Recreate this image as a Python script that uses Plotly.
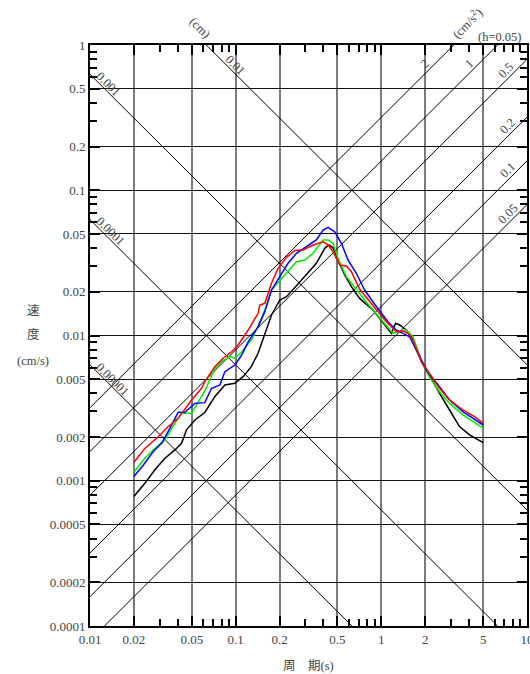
import math
import plotly.graph_objects as go

# ---------------- data (period in s, pseudo velocity in cm/s) ----------------
period_red = [0.020, 0.0238, 0.0294, 0.0344, 0.0403, 0.0498, 0.0583, 0.0614, 0.0719, 0.0820,
              0.0937, 0.104, 0.122, 0.1425, 0.1464, 0.1585, 0.1762, 0.1955, 0.2232, 0.2544,
              0.290, 0.340, 0.398, 0.431, 0.466, 0.518, 0.575, 0.623, 0.710, 0.876,
              1.082, 1.267, 1.407, 1.522, 1.647, 1.880, 2.145, 2.51, 2.94, 3.63, 4.36, 5.0]
vel_red = [0.00134, 0.00167, 0.00201, 0.00236, 0.00269, 0.00360, 0.00433, 0.00481, 0.00610, 0.00697,
           0.00773, 0.00860, 0.01091, 0.01422, 0.01622, 0.01666, 0.02288, 0.02902, 0.03450, 0.03850,
           0.03878, 0.04198, 0.04423, 0.04198, 0.03775, 0.03057, 0.03010, 0.02749, 0.02080, 0.01600,
           0.01245, 0.01062, 0.01074, 0.01035, 0.00931, 0.00660, 0.00549, 0.00433, 0.00360, 0.00307,
           0.00276, 0.00249]

period_blue = [0.020, 0.0232, 0.0272, 0.0310, 0.0354, 0.0403, 0.0448, 0.0525, 0.0614, 0.0683,
               0.0779, 0.0843, 0.0987, 0.110, 0.122, 0.1425, 0.1585, 0.1762, 0.2008, 0.2289,
               0.2614, 0.306, 0.358, 0.398, 0.4305, 0.478, 0.532, 0.590, 0.674, 0.768,
               0.900, 1.110, 1.267, 1.407, 1.563, 1.782, 2.034, 2.51, 2.94, 3.63, 5.0]
vel_blue = [0.00107, 0.00128, 0.00159, 0.00181, 0.00230, 0.00296, 0.00296, 0.00341, 0.00345, 0.00433,
            0.00456, 0.00563, 0.00626, 0.00734, 0.00906, 0.0115, 0.01459, 0.02057, 0.02540, 0.03141,
            0.03681, 0.04087, 0.04545, 0.05325, 0.05557, 0.05184, 0.04313, 0.03310, 0.02681, 0.02057,
            0.01640, 0.01245, 0.01091, 0.01035, 0.00981, 0.00754, 0.00579, 0.00444, 0.00360, 0.00299,
            0.00242]

period_green = [0.020, 0.0238, 0.0279, 0.0327, 0.0383, 0.0425, 0.0498, 0.0539, 0.0614, 0.0719,
                0.080, 0.0912, 0.0987, 0.110, 0.128, 0.1425, 0.1585, 0.1762, 0.2008, 0.2232,
                0.2614, 0.298, 0.340, 0.398, 0.4305, 0.466, 0.504, 0.575, 0.674, 0.789,
                0.876, 1.082, 1.201, 1.300, 1.484, 1.647, 1.880, 2.145, 2.51, 2.94, 3.63, 5.0]
vel_green = [0.00115, 0.00143, 0.00167, 0.00191, 0.00249, 0.00291, 0.00291, 0.00332, 0.00415, 0.00594,
             0.00660, 0.00715, 0.00697, 0.00773, 0.00931, 0.0115, 0.01498, 0.02057, 0.02400, 0.02700,
             0.03222, 0.03310, 0.03681, 0.04545, 0.04545, 0.04313, 0.03400, 0.02540, 0.02057, 0.01700,
             0.01498, 0.01181, 0.01035, 0.01062, 0.01091, 0.00981, 0.00660, 0.00514, 0.00410, 0.00341,
             0.00284, 0.00230]

period_black = [0.020, 0.0238, 0.0279, 0.0327, 0.0383, 0.0425, 0.0460, 0.0525, 0.0614, 0.0719,
                0.0843, 0.0987, 0.1125, 0.128, 0.1425, 0.1585, 0.1762, 0.2008, 0.2232, 0.2614,
                0.306, 0.358, 0.409, 0.437, 0.466, 0.504, 0.560, 0.623, 0.710, 0.876,
                1.082, 1.171, 1.253, 1.335, 1.484, 1.647, 1.880, 2.145, 2.51, 2.94, 3.44, 4.03, 5.0]
vel_black = [0.00078, 0.00096, 0.00119, 0.00143, 0.00163, 0.00181, 0.00224, 0.00262, 0.00295, 0.00379,
             0.00456, 0.00469, 0.00521, 0.00610, 0.00754, 0.01035, 0.01384, 0.01756, 0.01850, 0.02200,
             0.02609, 0.03141, 0.03984, 0.04198, 0.04013, 0.03310, 0.02609, 0.02168, 0.01800, 0.01498,
             0.01150, 0.01035, 0.01213, 0.01181, 0.01091, 0.00956, 0.00678, 0.00528, 0.00400, 0.00307,
             0.00236, 0.00207, 0.00183]

# tripartite diagonal levels
disp_levels = [0.00001, 0.0001, 0.001, 0.01]          # cm
disp_labels = ["0.00001", "0.0001", "0.001", "0.01"]
disp_label_period = [0.01438, 0.01371, 0.01328, 0.0987]
acc_levels = [0.05, 0.1, 0.2, 0.5, 1, 2]               # cm/s^2
acc_labels = ["0.05", "0.1", "0.2", "0.5", "1", "2"]
acc_label_period = [7.38, 7.38, 7.38, 7.2, 3.99, 1.98]

x_tickvals = [0.01, 0.02, 0.05, 0.1, 0.2, 0.5, 1, 2, 5, 10]
x_ticktext = ["0.01", "0.02", "0.05", "0.1", "0.2", "0.5", "1", "2", "5", "10"]
y_tickvals = [1, 0.5, 0.2, 0.1, 0.05, 0.02, 0.01, 0.005, 0.002, 0.001, 0.0005, 0.0002, 0.0001]
y_ticktext = ["1", "0.5", "0.2", "0.1", "0.05", "0.02", "0.01", "0.005", "0.002", "0.001",
              "0.0005", "0.0002", "0.0001"]
minor_mult = [3, 4, 6, 7, 8, 9]
x_minor = [d * m for d in [0.01, 0.1, 1] for m in minor_mult]
y_minor = [d * m for d in [0.0001, 0.001, 0.01, 0.1] for m in minor_mult]

TWO_PI = 2 * math.pi
FONT = "Liberation Serif, Noto Sans CJK JP"
TXT = "#444444"

fig = go.Figure()

T_ends = [0.01, 10]
for D in disp_levels:
    fig.add_trace(go.Scatter(x=T_ends, y=[TWO_PI * D / t for t in T_ends], mode="lines",
                             line=dict(color="black", width=1), hoverinfo="skip"))
for A in acc_levels:
    fig.add_trace(go.Scatter(x=T_ends, y=[A * t / TWO_PI for t in T_ends], mode="lines",
                             line=dict(color="black", width=1), hoverinfo="skip"))

for px_, vy, col in [(period_black, vel_black, "black"), (period_green, vel_green, "#00ee00"),
                     (period_blue, vel_blue, "#0000ff"), (period_red, vel_red, "#ff0000")]:
    fig.add_trace(go.Scatter(x=px_, y=vy, mode="lines", line=dict(color=col, width=1.5)))

lab_font = dict(family=FONT, size=12.5, color=TXT)
C = dict(xanchor="center", yanchor="middle", showarrow=False, font=lab_font)
ann = []
for D, lab, t in zip(disp_levels, disp_labels, disp_label_period):
    ann.append(dict(x=math.log10(t), y=math.log10(TWO_PI * D / t), text=lab, textangle=45,
                    yshift=8, **C))
for A, lab, t in zip(acc_levels, acc_labels, acc_label_period):
    ann.append(dict(x=math.log10(t), y=math.log10(A * t / TWO_PI), text=lab, textangle=-45,
                    yshift=10, **C))
# unit / damping labels above the plot area (paper coordinates)
ann.append(dict(xref="paper", yref="paper", x=0.2517, y=1.0293, text="(cm)", textangle=45, **C))
ann.append(dict(xref="paper", yref="paper", x=0.862, y=1.0373, text="(cm/s<sup>2</sup>)",
                textangle=-45, **C))
ann.append(dict(xref="paper", yref="paper", x=0.9382, y=1.0143, text="(h=0.05)", **C))

# axis titles
for txt, yp in [("速", 0.5422), ("度", 0.5009), ("(cm/s)", 0.4561)]:
    ann.append(dict(xref="paper", yref="paper", x=-0.1304, y=yp, text=txt, **C))
ann.append(dict(xref="paper", yref="paper", x=0.501, y=-0.0688, text="周　期(s)", **C))

fig.update_layout(
    width=530, height=674,
    margin=dict(l=90, r=3, t=45, b=48, autoexpand=False),
    paper_bgcolor="white", plot_bgcolor="white",
    showlegend=False,
    annotations=ann,
    xaxis=dict(type="log", range=[-2, 1], tickvals=x_tickvals, ticktext=x_ticktext,
               showgrid=True, gridcolor="#7a7a7a", gridwidth=2.2,
               ticks="inside", ticklen=10, tickwidth=1.5, tickcolor="black",
               showline=True, linecolor="black", linewidth=2, mirror="allticks",
               tickfont=dict(family=FONT, size=13, color=TXT), zeroline=False,
               ticklabeloverflow="allow",
               minor=dict(tickvals=x_minor, ticks="inside", ticklen=7, tickwidth=1.5,
                          tickcolor="black", showgrid=False)),
    yaxis=dict(type="log", range=[-4, 0], tickvals=y_tickvals, ticktext=y_ticktext,
               showgrid=True, gridcolor="#111111", gridwidth=1.4,
               ticks="inside", ticklen=10, tickwidth=1.5, tickcolor="black",
               showline=True, linecolor="black", linewidth=2, mirror="allticks",
               tickfont=dict(family=FONT, size=13, color=TXT), zeroline=False,
               ticklabeloverflow="allow",
               minor=dict(tickvals=y_minor, ticks="inside", ticklen=7, tickwidth=1.5,
                          tickcolor="black", showgrid=False)),
)

fig.write_html("out.html", config={"displayModeBar": False},
               post_script="document.body.style.margin='0';document.body.style.overflow='hidden';")
